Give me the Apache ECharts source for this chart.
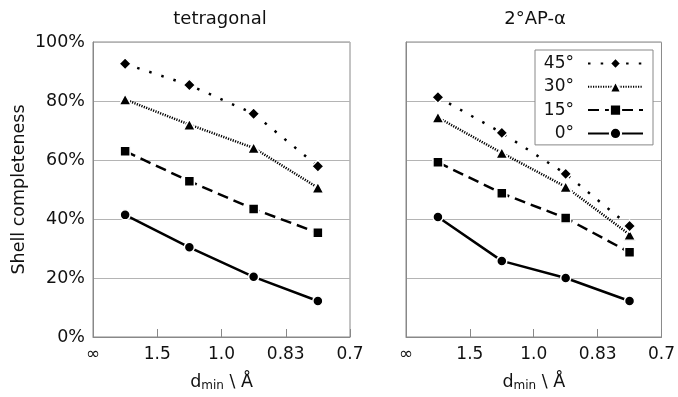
<!DOCTYPE html>
<html><head><meta charset="utf-8">
<script src="https://cdn.jsdelivr.net/npm/echarts@6/dist/echarts.min.js"></script>
<style>html,body{margin:0;padding:0;background:#fff}#c{width:678px;height:397px}</style>
</head><body><div id="c"></div>
<script>
const xTickLabels = ['∞', '1.5', '1.0', '0.83', '0.7'];
const xPos = [0.5, 1.5, 2.5, 3.5];
const seriesNames = ['45°', '30°', '15°', '0°'];
const panelTitles = ['tetragonal', '2°AP-α'];
const tetra45 = [92.6, 85.4, 75.7, 57.9];
const tetra30 = [80.5, 72.0, 64.1, 50.6];
const tetra15 = [63.0, 52.8, 43.4, 35.3];
const tetra0 = [41.4, 30.4, 20.4, 12.2];
const ap45 = [81.3, 69.2, 55.3, 37.6];
const ap30 = [74.4, 62.4, 50.9, 34.7];
const ap15 = [59.2, 48.7, 40.3, 28.7];
const ap0 = [40.7, 25.8, 20.0, 12.2];

const FONT = 'DejaVu Sans';
const styles = {
  '45°': {symbol: 'diamond', size: [12, 12], type: [2.5, 10.2]},
  '30°': {symbol: 'triangle', size: [12, 11], type: [1.2, 1.3]},
  '15°': {symbol: 'rect', size: [10, 10], type: [11, 6]},
  '0°': {symbol: 'circle', size: [10, 10], type: 'solid'}
};
const panelData = [[tetra45, tetra30, tetra15, tetra0], [ap45, ap30, ap15, ap0]];

const grids = [
  {left: 93, top: 42, width: 257, height: 301.5, show: true, borderColor: '#888', borderWidth: 1, backgroundColor: 'transparent'},
  {left: 406, top: 42, width: 258, height: 301.5, show: true, borderColor: '#888', borderWidth: 1, backgroundColor: 'transparent'}
];
const nameRich = {
  a: {fontFamily: FONT, fontSize: 17.5, color: '#111'},
  b: {fontFamily: FONT, fontSize: 12, color: '#111', padding: [8, 0, 0, 0]}
};
const xAxes = [0, 1].map(i => ({
  type: 'value', gridIndex: i, min: 0, max: 4, interval: 1,
  axisLine: {lineStyle: {color: '#888', width: 1}},
  axisTick: {inside: true, length: 8, lineStyle: {color: '#888'}},
  splitLine: {show: false},
  axisLabel: {fontFamily: FONT, fontSize: 17, color: '#111', margin: 9,
    formatter: v => xTickLabels[Math.round(v)]},
  name: '{a|d}{b|min}{a| \\ Å}', nameLocation: 'middle', nameGap: 35,
  nameTextStyle: {rich: nameRich}
}));
const yAxes = [0, 1].map(i => ({
  type: 'value', gridIndex: i, min: 0, max: 100, interval: 20,
  axisLine: {show: true, lineStyle: {color: '#888'}},
  axisTick: {show: false},
  splitLine: {show: true, lineStyle: {color: '#b4b4b4', width: 1}},
  axisLabel: {show: i === 0, fontFamily: FONT, fontSize: 17.5, color: '#111', margin: 8, formatter: '{value}%'},
  name: i === 0 ? 'Shell completeness' : '', nameLocation: 'middle', nameGap: 65,
  nameTextStyle: {fontFamily: FONT, fontSize: 17.5, color: '#111'}
}));
const series = [];
[0, 1].forEach(p => {
  seriesNames.forEach((n, k) => {
    const s = styles[n];
    series.push({
      type: 'line', name: n, xAxisIndex: p, yAxisIndex: p,
      data: xPos.map((x, j) => [x, panelData[p][k][j]]),
      symbol: s.symbol, symbolSize: s.size, showSymbol: true,
      lineStyle: {color: '#000', width: 2.5, type: s.type, cap: 'butt'},
      itemStyle: {color: '#000', borderColor: '#fff', borderWidth: 1.5},
      animation: false, z: 10 - k
    });
  });
});
const chart = echarts.init(document.getElementById('c'), null, {renderer: 'canvas'});
chart.setOption({
  animation: false,
  backgroundColor: '#fff',
  grid: grids, xAxis: xAxes, yAxis: yAxes, series: series,
  legend: {
    data: seriesNames, orient: 'vertical', align: 'right',
    left: 535, top: 50, padding: [5, 9, 3, 8],
    borderColor: '#888', borderWidth: 1, backgroundColor: '#fff',
    itemWidth: 55, itemHeight: 14, itemGap: 6.3,
    textStyle: {fontFamily: FONT, fontSize: 17, color: '#111', width: 31, align: 'right', lineHeight: 17, padding: [0, 9, 0, 0]},
    selectedMode: false
  },
  graphic: panelTitles.map((t, i) => ({
    type: 'text', x: i === 0 ? 220 : 535, y: 19,
    style: {text: t, fontFamily: FONT, fontSize: 18, fill: '#111', align: 'center', verticalAlign: 'middle'}
  }))
});
</script></body></html>
